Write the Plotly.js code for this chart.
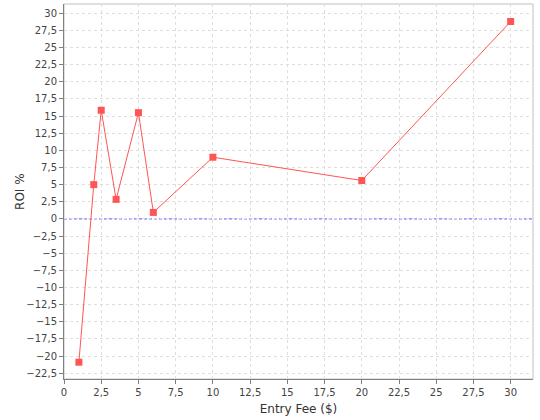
<!DOCTYPE html>
<html>
<head>
<meta charset="utf-8">
<script src="https://cdn.plot.ly/plotly-3.0.1.min.js"></script>
<style>html,body{margin:0;padding:0;background:#fff;}#chart{width:540px;height:420px;}</style>
</head>
<body>
<div id="chart"></div>
<script>
const entryFee = [1, 2, 2.5, 3.5, 5, 6, 10, 20, 30];
const roiPercent = [-20.9, 5.0, 15.85, 2.85, 15.5, 0.95, 9.0, 5.6, 28.8];
const zeroLevel = 0;
const xRange = [0, 31.5];
const yRange = [-23.35, 31.35];

const trace = {
  x: entryFee,
  y: roiPercent,
  type: 'scatter',
  mode: 'lines+markers',
  line: {color: '#ff5555', width: 1},
  marker: {symbol: 'square', size: 7, color: '#ff5555'},
  hoverinfo: 'skip'
};

const tickFont = {family: 'DejaVu Sans, sans-serif', size: 10, color: '#444444'};
const axisBase = {
  showline: true, linecolor: '#808080', linewidth: 1,
  ticks: 'outside', ticklen: 4, tickcolor: '#808080', tickwidth: 1,
  showgrid: true, gridcolor: '#dedede', griddash: '3px,3px', gridwidth: 1,
  zeroline: false, dtick: 2.5, tick0: 0, tickfont: tickFont
};

const layout = {
  width: 540, height: 420,
  margin: {l: 64, r: 7, t: 4, b: 41},
  paper_bgcolor: '#ffffff', plot_bgcolor: '#ffffff',
  separators: ', ',
  showlegend: false,
  xaxis: Object.assign({}, axisBase, {
    range: xRange,
    title: {text: 'Entry Fee ($)', font: {family: 'DejaVu Sans, sans-serif', size: 12, color: '#333333'}, standoff: 7}
  }),
  yaxis: Object.assign({}, axisBase, {
    range: yRange,
    title: {text: '', font: {family: 'DejaVu Sans, sans-serif', size: 12, color: '#333333'}}
  }),
  annotations: [
    {text: 'ROI %', xref: 'paper', yref: 'paper', x: -0.095, y: 0.5, xanchor: 'center', yanchor: 'middle',
     textangle: -90, showarrow: false, font: {family: 'DejaVu Sans, sans-serif', size: 12, color: '#333333'}}
  ],
  shapes: [
    {type: 'rect', xref: 'paper', yref: 'paper', x0: 0, x1: 1, y0: 0, y1: 1,
     line: {color: '#c0c0c0', width: 1}, layer: 'below'},
    {type: 'line', xref: 'paper', yref: 'y', x0: 0, x1: 1, y0: zeroLevel, y1: zeroLevel,
     line: {color: '#5555ff', width: 1, dash: '3px,2px'}, layer: 'below'}
  ]
};

Plotly.newPlot('chart', [trace], layout, {displayModeBar: false, staticPlot: true});
</script>
</body>
</html>
